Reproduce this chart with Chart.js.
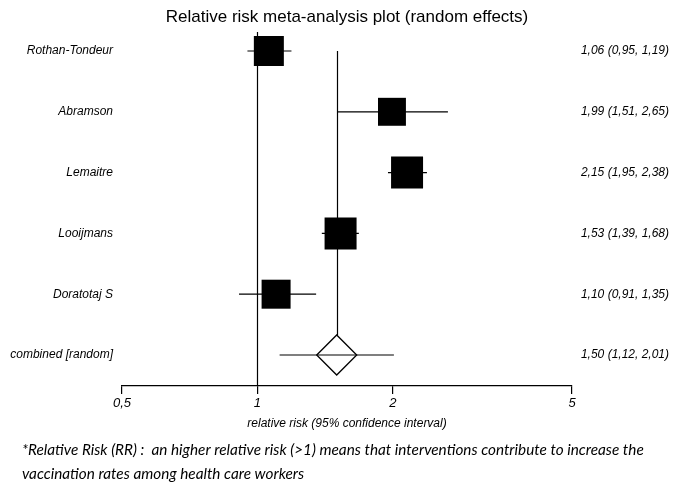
<!DOCTYPE html>
<html>
<head>
<meta charset="utf-8">
<script src="https://cdn.jsdelivr.net/npm/chart.js@4.4.1/dist/chart.umd.min.js"></script>
<style>
  html, body { margin: 0; padding: 0; background: #fff; }
  #wrap { width: 680px; height: 490px; position: relative; }
</style>
</head>
<body>
<div id="wrap"><canvas id="forest"></canvas></div>
<script>
// study rows, top to bottom (last row is the pooled estimate)
const studies = ['Rothan-Tondeur', 'Abramson', 'Lemaitre', 'Looijmans', 'Doratotaj S', 'combined [random]'];
const rr = [1.06, 1.99, 2.15, 1.53, 1.10, 1.50];
const lower = [0.95, 1.51, 1.95, 1.39, 0.91, 1.12];
const upper = [1.19, 2.65, 2.38, 1.68, 1.35, 2.01];
// study weights (%), box area ~ weight
const weights = [19.7, 17.1, 22.4, 22.4, 18.4];
const xTicks = [0.5, 1, 2, 5];

const FONT = "'Liberation Sans', Arial, sans-serif";
const fmt = v => v.toFixed(2).replace('.', ',');
const pooled = studies.length - 1;
const DIAMOND_R = 20;

const forestText = {
    id: 'forestText',
    beforeDatasetsDraw(chart) {
        const { ctx, chartArea, scales: { x, y } } = chart;
        ctx.save();
        ctx.strokeStyle = '#000';
        ctx.lineWidth = 1.2;
        // line of no effect
        const x1 = Math.round(x.getPixelForValue(1)) + 0.5;
        ctx.beginPath();
        ctx.moveTo(x1, chartArea.top);
        ctx.lineTo(x1, chartArea.bottom);
        ctx.stroke();
        // pooled estimate line, down to the top of the diamond
        const xp = Math.round(x.getPixelForValue(rr[pooled])) + 0.5;
        ctx.beginPath();
        ctx.moveTo(xp, y.getPixelForValue(0));
        ctx.lineTo(xp, y.getPixelForValue(pooled) - DIAMOND_R);
        ctx.stroke();
        ctx.restore();
    },
    afterDraw(chart) {
        const { ctx, chartArea, scales: { y } } = chart;
        ctx.save();
        ctx.fillStyle = '#000';
        ctx.textBaseline = 'middle';

        ctx.font = `17px ${FONT}`;
        ctx.textAlign = 'center';
        ctx.fillText('Relative risk meta-analysis plot (random effects)', (chartArea.left + chartArea.right) / 2, 17);

        ctx.font = `italic 12px ${FONT}`;
        studies.forEach((name, i) => {
            const py = y.getPixelForValue(i);
            ctx.textAlign = 'right';
            ctx.fillText(name, 113, py);
            ctx.fillText(`${fmt(rr[i])} (${fmt(lower[i])}, ${fmt(upper[i])})`, 669, py);
        });

        ctx.textAlign = 'center';
        ctx.fillText('relative risk (95% confidence interval)', (chartArea.left + chartArea.right) / 2, 424);

        ctx.font = "italic 15.3px Lato, 'Open Sans', sans-serif";
        ctx.textAlign = 'left';
        ctx.fillText('*Relative Risk (RR) :  an higher relative risk (>1) means that interventions contribute to increase the', 22, 450);
        ctx.fillText('vaccination rates among health care workers', 22, 474);
        ctx.restore();
    }
};

// one whisker per row
const whiskers = studies.map((s, i) => ({
    type: 'line',
    data: [{ x: lower[i], y: i }, { x: upper[i], y: i }],
    borderColor: '#000',
    borderWidth: 1.2,
    pointRadius: 0,
    order: 2,
}));

new Chart(document.getElementById('forest'), {
    type: 'scatter',
    data: {
        datasets: [
            {
                data: weights.map((w, i) => ({ x: rr[i], y: i })),
                pointStyle: 'rect',
                // side = 6.76*sqrt(w), rect radius = side / sqrt(2)
                pointRadius: weights.map(w => 6.76 * Math.sqrt(w) / Math.SQRT2),
                backgroundColor: '#000',
                borderWidth: 0,
                order: 0,
            },
            {
                data: [{ x: rr[pooled], y: pooled }],
                pointStyle: 'rectRot',
                pointRadius: DIAMOND_R,
                backgroundColor: 'rgba(0,0,0,0)',
                borderColor: '#000',
                borderWidth: 1.3,
                order: 0,
            },
            ...whiskers,
        ],
    },
    options: {
        responsive: true,
        maintainAspectRatio: false,
        animation: false,
        events: [],
        layout: { padding: { left: 122, right: 108, top: 32, bottom: 80 } },
        plugins: { legend: { display: false }, tooltip: { enabled: false } },
        scales: {
            x: {
                type: 'logarithmic',
                min: 0.5,
                max: 5,
                afterBuildTicks: s => { s.ticks = xTicks.map(v => ({ value: v })); },
                afterFit: s => { s.height = 24; },
                grid: { drawOnChartArea: false, drawTicks: true, tickLength: 8, color: '#000', lineWidth: 1.2 },
                border: { color: '#000', width: 1.2 },
                ticks: {
                    color: '#000',
                    padding: 2,
                    maxRotation: 0,
                    autoSkip: false,
                    font: { family: FONT, size: 13, style: 'italic' },
                    callback: v => String(v).replace('.', ','),
                },
            },
            y: {
                type: 'linear',
                display: false,
                reverse: true,
                min: -0.3125,
                max: 5.51,
            },
        },
    },
    plugins: [forestText],
});
</script>
</body>
</html>
